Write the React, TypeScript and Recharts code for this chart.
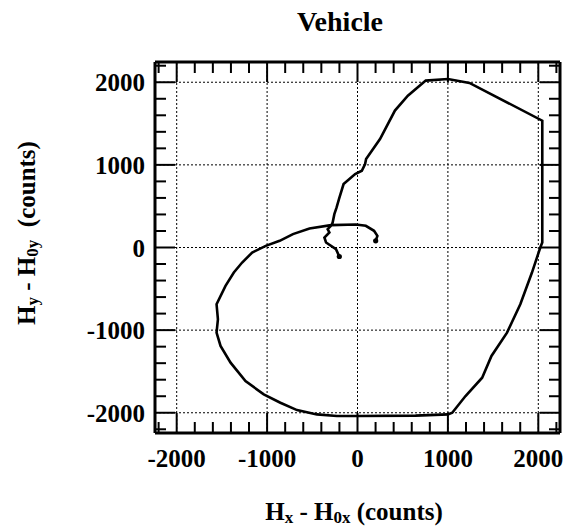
import React from "react";
import { ScatterChart, Scatter, XAxis, YAxis, ReferenceLine } from "recharts";

const hx = [-201, -238, -348, -366, -311, -330, -293, -275, -256, -231, -205, -154, -26, 48, 84, 95, 249, 414, 557, 755, 1000, 1238, 2044, 2044, 2022, 1930, 1801, 1654, 1482, 1379, 1195, 1048, 1000, 643, 0, -228, -449, -669, -853, -1037, -1239, -1404, -1515, -1559, -1544, -1559, -1460, -1368, -1276, -1165, -1015, -861, -714, -531, -293, -18, 92, 183, 220, 201];
const hy = [-109, -20, 61, 121, 182, 222, 263, 303, 404, 485, 586, 768, 889, 929, 1010, 1071, 1313, 1657, 1838, 2020, 2040, 1992, 1535, 61, 0, -303, -687, -1030, -1313, -1576, -1798, -2000, -2020, -2035, -2040, -2040, -2020, -1968, -1879, -1778, -1616, -1394, -1192, -1030, -869, -687, -465, -303, -182, -61, 20, 81, 162, 230, 271, 279, 263, 202, 141, 81];

const allTicks = [-2200, -2000, -1800, -1600, -1400, -1200, -1000, -800, -600, -400, -200, 0, 200, 400, 600, 800, 1000, 1200, 1400, 1600, 1800, 2000, 2200];
const majorTicks = [-2000, -1000, 0, 1000, 2000];
const xDomain = [-2240, 2240];
const yDomain = [-2245, 2245];

const title = "Vehicle";

const data = hx.map((x, i) => ({ x, y: hy[i], i }));
const lastIndex = data.length - 1;

const FONT = "'Liberation Serif', 'Times New Roman', serif";
const MAJOR = 20;
const MINOR = 11;

const isMajor = (v: number) => majorTicks.includes(v);

const BottomTick = (props: any) => {
  const { x, y, payload } = props;
  const v = payload.value;
  const len = isMajor(v) ? MAJOR : MINOR;
  return (
    <g>
      <line x1={x} x2={x} y1={y} y2={y - len} stroke="#000" strokeWidth={2} />
      {isMajor(v) && (
        <text x={x} y={y + 34} textAnchor="middle" fontFamily={FONT} fontWeight="bold" fontSize={25} fill="#000">
          {String(v)}
        </text>
      )}
    </g>
  );
};

const TopTick = (props: any) => {
  const { x, y, payload } = props;
  const len = isMajor(payload.value) ? MAJOR : MINOR;
  return <line x1={x} x2={x} y1={y} y2={y + len} stroke="#000" strokeWidth={2} />;
};

const LeftTick = (props: any) => {
  const { x, y, payload } = props;
  const v = payload.value;
  const len = isMajor(v) ? MAJOR : MINOR;
  return (
    <g>
      <line x1={x} x2={x + len} y1={y} y2={y} stroke="#000" strokeWidth={2} />
      {isMajor(v) && (
        <text x={x - 10} y={y + 9} textAnchor="end" fontFamily={FONT} fontWeight="bold" fontSize={25} fill="#000">
          {String(v)}
        </text>
      )}
    </g>
  );
};

const RightTick = (props: any) => {
  const { x, y, payload } = props;
  const len = isMajor(payload.value) ? MAJOR : MINOR;
  return <line x1={x} x2={x - len} y1={y} y2={y} stroke="#000" strokeWidth={2} />;
};

const EndShape = (props: any) => {
  const { cx, cy, payload } = props;
  if (payload && (payload.i === 0 || payload.i === lastIndex)) {
    return <circle cx={cx} cy={cy} r={2.6} fill="#000" />;
  }
  return <g />;
};

const NoShape = () => <g />;

export default function App() {
  return (
    <div style={{ position: "absolute", left: 0, top: 0, width: 565, height: 527, background: "#fff" }}>
      <ScatterChart width={565} height={527} margin={{ top: 61, right: 4, bottom: 34, left: 0 }}>
        <XAxis
          type="number"
          dataKey="x"
          domain={xDomain}
          ticks={allTicks}
          interval={0}
          allowDataOverflow
          height={60}
          tickSize={0}
          tickMargin={0}
          tickLine={false}
          axisLine={{ stroke: "#000", strokeWidth: 3 }}
          tick={<BottomTick />}
        />
        <XAxis
          xAxisId="top"
          orientation="top"
          type="number"
          dataKey="x"
          domain={xDomain}
          ticks={allTicks}
          interval={0}
          allowDataOverflow
          height={1}
          tickSize={0}
          tickMargin={0}
          tickLine={false}
          axisLine={{ stroke: "#000", strokeWidth: 3 }}
          tick={<TopTick />}
        />
        <YAxis
          type="number"
          dataKey="y"
          domain={yDomain}
          ticks={allTicks}
          interval={0}
          allowDataOverflow
          width={155}
          tickSize={0}
          tickMargin={0}
          tickLine={false}
          axisLine={{ stroke: "#000", strokeWidth: 3 }}
          tick={<LeftTick />}
        />
        <YAxis
          yAxisId="right"
          orientation="right"
          type="number"
          dataKey="y"
          domain={yDomain}
          ticks={allTicks}
          interval={0}
          allowDataOverflow
          width={1}
          tickSize={0}
          tickMargin={0}
          tickLine={false}
          axisLine={{ stroke: "#000", strokeWidth: 3 }}
          tick={<RightTick />}
        />
        {majorTicks.map((v) => (
          <ReferenceLine key={"vx" + v} x={v} stroke="#000" strokeWidth={1} strokeDasharray="2 2" />
        ))}
        {majorTicks.map((v) => (
          <ReferenceLine key={"hy" + v} y={v} stroke="#000" strokeWidth={1} strokeDasharray="2 2" />
        ))}
        <Scatter
          data={data}
          xAxisId="top"
          yAxisId="right"
          shape={<NoShape />}
          isAnimationActive={false}
        />
        <Scatter
          data={data}
          line={{ stroke: "#000", strokeWidth: 2.6 }}
          lineType="joint"
          shape={<EndShape />}
          isAnimationActive={false}
        />
      </ScatterChart>
      <svg width={565} height={527} style={{ position: "absolute", left: 0, top: 0, pointerEvents: "none" }}>
        <text x={340} y={31} textAnchor="middle" fontFamily={FONT} fontWeight="bold" fontSize={28} fill="#000">
          {title}
        </text>
        <text x={354} y={520} textAnchor="middle" fontFamily={FONT} fontWeight="bold" fontSize={25} fill="#000">
          H<tspan fontSize={17} dy={3}>x</tspan>
          <tspan dy={-3}> - H</tspan>
          <tspan fontSize={17} dy={3}>0x</tspan>
          <tspan dy={-3}>{"  (counts)"}</tspan>
        </text>
        <text
          transform="translate(35,233) rotate(-90)"
          x={0}
          y={0}
          textAnchor="middle"
          fontFamily={FONT}
          fontWeight="bold"
          fontSize={25}
          fill="#000"
          style={{ whiteSpace: "pre" }}
        >
          H<tspan fontSize={17} dy={3}>y</tspan>
          <tspan dy={-3}> - H</tspan>
          <tspan fontSize={17} dy={3}>0y</tspan>
          <tspan dy={-3}>{"  (counts)"}</tspan>
        </text>
      </svg>
    </div>
  );
}
